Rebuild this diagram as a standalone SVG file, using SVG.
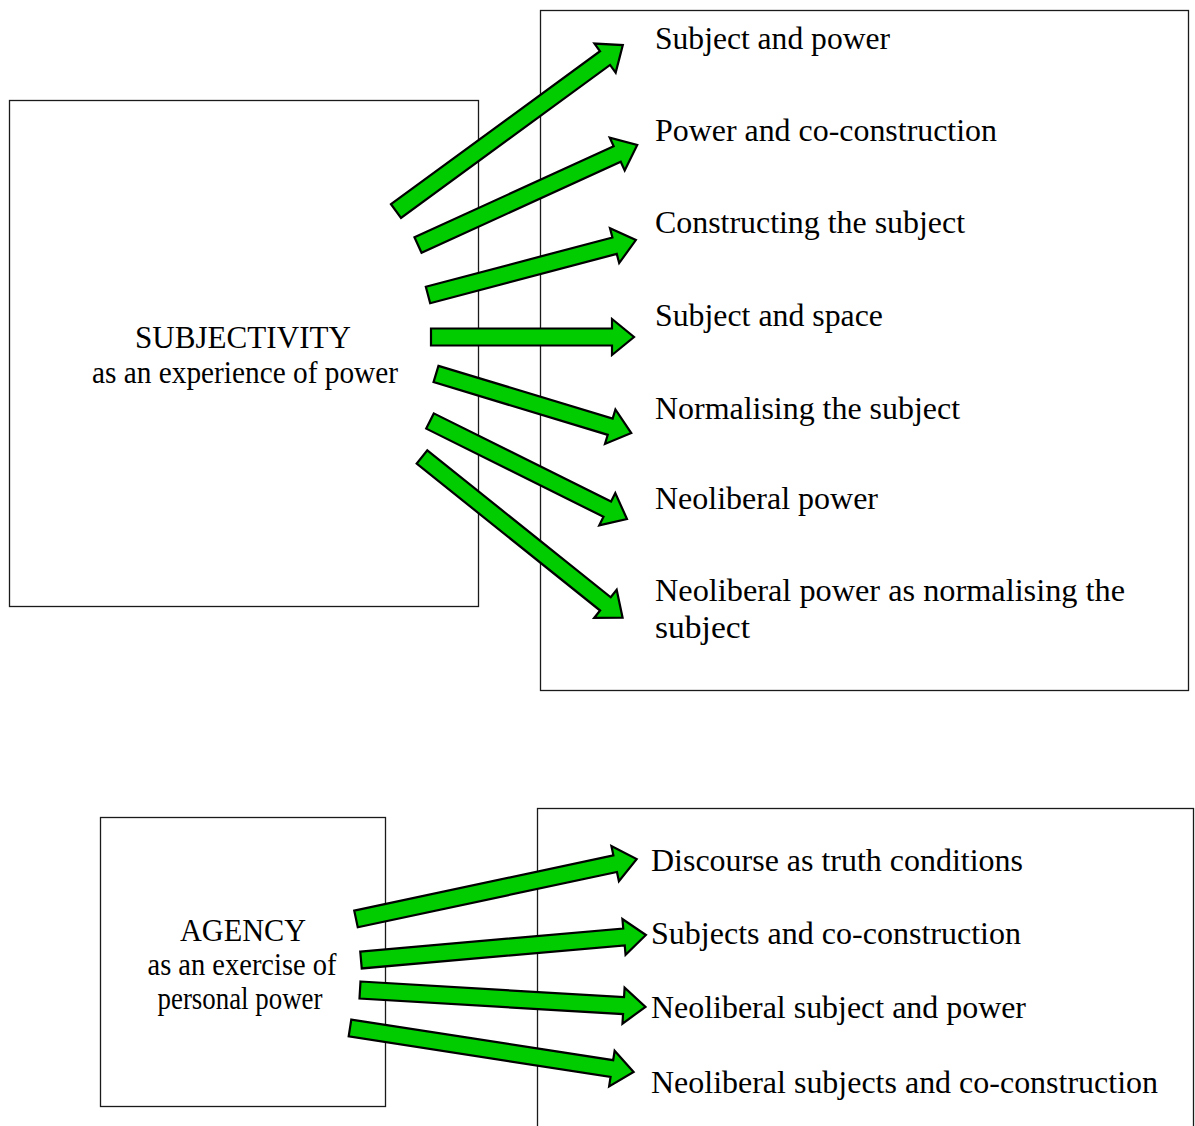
<svg xmlns="http://www.w3.org/2000/svg" width="1195" height="1126" viewBox="0 0 1195 1126">
  <style>
    .box { fill: #ffffff; stroke: #1a1a1a; stroke-width: 1.3; }
    .arrow { fill: #00cc00; stroke: #000000; stroke-width: 2.2; stroke-linejoin: miter; }
    text { font-family: "Liberation Serif", "Times New Roman", serif; font-size: 32px; fill: #000000; }
    .mid { text-anchor: middle; }
  </style>

  <rect width="1195" height="1126" fill="#ffffff"/>

  <!-- Upper cluster -->
  <g id="subjectivity">
    <rect class="box" x="9.5" y="100.5" width="469" height="506"/>
    <text class="mid" x="243" y="348" textLength="216" lengthAdjust="spacingAndGlyphs">SUBJECTIVITY</text>
    <text class="mid" x="245" y="383" textLength="306" lengthAdjust="spacingAndGlyphs">as an experience of power</text>
  </g>

  <g id="subjectivity-themes">
    <rect class="box" x="540.5" y="10.5" width="648" height="680"/>
  </g>

  <!-- Lower cluster -->
  <g id="agency">
    <rect class="box" x="100.5" y="817.5" width="285" height="289"/>
    <text class="mid" x="243" y="941" textLength="126" lengthAdjust="spacingAndGlyphs">AGENCY</text>
    <text class="mid" x="242" y="975" textLength="189" lengthAdjust="spacingAndGlyphs">as an exercise of</text>
    <text class="mid" x="240" y="1009" textLength="165" lengthAdjust="spacingAndGlyphs">personal power</text>
  </g>

  <g id="agency-themes">
    <rect class="box" x="537.5" y="808.5" width="656" height="340"/>
  </g>

  <!-- Block arrows: local shape runs along +x from tail (0,0) to tip (len,0) -->
  <g id="connectors">
    <polygon class="arrow" transform="translate(396,211) rotate(-36.18)" points="0,-8.5 259,-8.5 259,-18 281,0 259,18 259,8.5 0,8.5"/>
    <polygon class="arrow" transform="translate(418,245) rotate(-24.54)" points="0,-8.5 219,-8.5 219,-18 241,0 219,18 219,8.5 0,8.5"/>
    <polygon class="arrow" transform="translate(428,295) rotate(-14.81)" points="0,-8.5 193,-8.5 193,-18 215,0 193,18 193,8.5 0,8.5"/>
    <polygon class="arrow" transform="translate(431,337)" points="0,-8.5 181,-8.5 181,-18 203,0 181,18 181,8.5 0,8.5"/>
    <polygon class="arrow" transform="translate(436,374) rotate(16.83)" points="0,-8.5 182,-8.5 182,-18 204,0 182,18 182,8.5 0,8.5"/>
    <polygon class="arrow" transform="translate(430,421) rotate(26.45)" points="0,-8.5 198,-8.5 198,-18 220,0 198,18 198,8.5 0,8.5"/>
    <polygon class="arrow" transform="translate(422,457) rotate(38.69)" points="0,-8.5 235,-8.5 235,-18 257,0 235,18 235,8.5 0,8.5"/>

    <polygon class="arrow" transform="translate(356,919) rotate(-12.05)" points="0,-8.5 265,-8.5 265,-18 287,0 265,18 265,8.5 0,8.5"/>
    <polygon class="arrow" transform="translate(361,960) rotate(-5.01)" points="0,-8.5 264,-8.5 264,-18 286,0 264,18 264,8.5 0,8.5"/>
    <polygon class="arrow" transform="translate(360,990) rotate(3.40)" points="0,-8.5 264,-8.5 264,-18 286,0 264,18 264,8.5 0,8.5"/>
    <polygon class="arrow" transform="translate(350,1028) rotate(8.81)" points="0,-8.5 265,-8.5 265,-18 287,0 265,18 265,8.5 0,8.5"/>
  </g>

  <!-- Theme labels -->
  <g id="label-subject-power"><text x="655" y="49" textLength="235" lengthAdjust="spacingAndGlyphs">Subject and power</text></g>
  <g id="label-power-coconstruction"><text x="655" y="141" textLength="342" lengthAdjust="spacingAndGlyphs">Power and co-construction</text></g>
  <g id="label-constructing-subject"><text x="655" y="233" textLength="310" lengthAdjust="spacingAndGlyphs">Constructing the subject</text></g>
  <g id="label-subject-space"><text x="655" y="326" textLength="228" lengthAdjust="spacingAndGlyphs">Subject and space</text></g>
  <g id="label-normalising"><text x="655" y="419" textLength="305" lengthAdjust="spacingAndGlyphs">Normalising the subject</text></g>
  <g id="label-neoliberal-power"><text x="655" y="509" textLength="223" lengthAdjust="spacingAndGlyphs">Neoliberal power</text></g>
  <g id="label-neoliberal-normalising">
    <text x="655" y="601" textLength="470" lengthAdjust="spacingAndGlyphs">Neoliberal power as normalising the</text>
    <text x="655" y="638" textLength="95" lengthAdjust="spacingAndGlyphs">subject</text>
  </g>

  <g id="label-discourse"><text x="651" y="871" textLength="372" lengthAdjust="spacingAndGlyphs">Discourse as truth conditions</text></g>
  <g id="label-subjects-coconstruction"><text x="651" y="944" textLength="370" lengthAdjust="spacingAndGlyphs">Subjects and co-construction</text></g>
  <g id="label-neoliberal-subject-power"><text x="651" y="1018" textLength="375" lengthAdjust="spacingAndGlyphs">Neoliberal subject and power</text></g>
  <g id="label-neoliberal-subjects-coconstruction"><text x="651" y="1093" textLength="507" lengthAdjust="spacingAndGlyphs">Neoliberal subjects and co-construction</text></g>
</svg>
